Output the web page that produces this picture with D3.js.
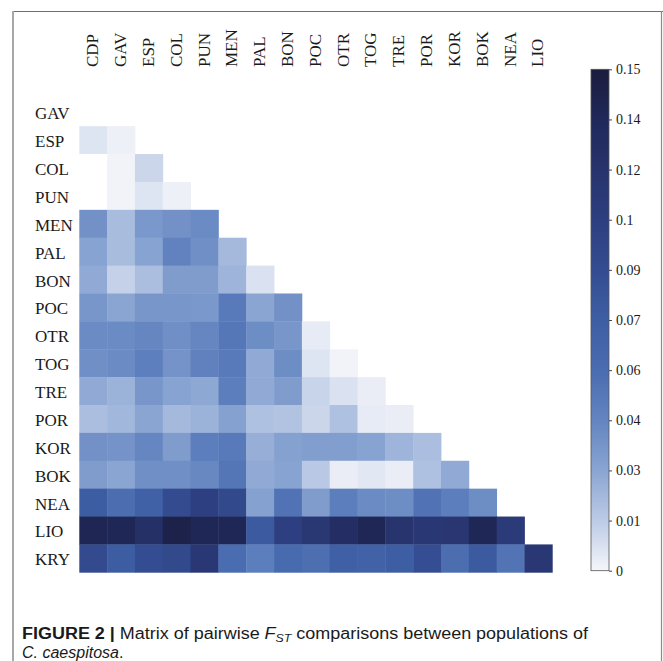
<!DOCTYPE html>
<html>
<head>
<meta charset="utf-8">
<script src="https://cdn.jsdelivr.net/npm/d3@7/dist/d3.min.js"></script>
<style>
  html, body { margin: 0; padding: 0; background: #fff; }
  svg { display: block; }
</style>
</head>
<body>
<svg id="chart" width="663" height="661"></svg>
<script>
// Populations (rows of the lower triangle, then columns)
const rowLabels = ["GAV","ESP","COL","PUN","MEN","PAL","BON","POC","OTR","TOG","TRE","POR","KOR","BOK","NEA","LIO","KRY"];
const colLabels = ["CDP","GAV","ESP","COL","PUN","MEN","PAL","BON","POC","OTR","TOG","TRE","POR","KOR","BOK","NEA","LIO"];

// Pairwise FST, one array per row (row i holds i+1 comparisons)
const fstGAV = [-0.002];
const fstESP = [0.006, 0.002];
const fstCOL = [-0.002, 0.001, 0.011];
const fstPUN = [-0.002, 0.001, 0.006, 0.002];
const fstMEN = [0.039, 0.021, 0.036, 0.039, 0.042];
const fstPAL = [0.031, 0.021, 0.031, 0.046, 0.040, 0.022];
const fstBON = [0.028, 0.013, 0.020, 0.034, 0.034, 0.024, 0.007];
const fstPOC = [0.037, 0.030, 0.037, 0.037, 0.036, 0.051, 0.030, 0.039];
const fstOTR = [0.042, 0.042, 0.044, 0.040, 0.044, 0.053, 0.041, 0.037, 0.004];
const fstTOG = [0.040, 0.042, 0.048, 0.038, 0.047, 0.051, 0.028, 0.041, 0.006, 0.001];
const fstTRE = [0.028, 0.025, 0.037, 0.031, 0.029, 0.049, 0.028, 0.034, 0.012, 0.007, 0.003];
const fstPOR = [0.020, 0.023, 0.030, 0.022, 0.025, 0.032, 0.019, 0.018, 0.011, 0.019, 0.004, 0.003];
const fstKOR = [0.039, 0.038, 0.044, 0.034, 0.049, 0.051, 0.026, 0.032, 0.033, 0.033, 0.031, 0.024, 0.020];
const fstBOK = [0.034, 0.030, 0.040, 0.040, 0.043, 0.054, 0.028, 0.031, 0.016, 0.003, 0.005, 0.003, 0.019, 0.028];
const fstNEA = [0.076, 0.059, 0.072, 0.091, 0.105, 0.094, 0.032, 0.056, 0.034, 0.049, 0.042, 0.041, 0.056, 0.049, 0.041];
const fstLIO = [0.138, 0.137, 0.124, 0.143, 0.137, 0.137, 0.078, 0.105, 0.115, 0.127, 0.137, 0.119, 0.114, 0.116, 0.137, 0.111];
const fstKRY = [0.092, 0.076, 0.090, 0.094, 0.114, 0.060, 0.049, 0.062, 0.058, 0.073, 0.071, 0.075, 0.089, 0.059, 0.078, 0.055, 0.114];

const fstRows = [fstGAV, fstESP, fstCOL, fstPUN, fstMEN, fstPAL, fstBON, fstPOC, fstOTR,
                 fstTOG, fstTRE, fstPOR, fstKOR, fstBOK, fstNEA, fstLIO, fstKRY];

// Colour bar ticks and their printed labels
const barTicks = [0, 0.015, 0.03, 0.045, 0.06, 0.075, 0.09, 0.105, 0.12, 0.135, 0.15];
const barTickLabels = ["0", "0.01", "0.03", "0.04", "0.06", "0.07", "0.09", "0.1", "0.12", "0.14", "0.15"];

// Colour ramp (white -> blue -> navy); negative FST shows as plain white
const rampValues = [-0.002, 0, 0.015, 0.03, 0.045, 0.06, 0.075, 0.09, 0.105, 0.12, 0.135, 0.15];
const rampColors = ["#ffffff", "#f5f6fa", "#bccbe6", "#8aa5d2", "#6384c0", "#4a6cb0", "#3e5ea4",
                    "#344c91", "#2d3f80", "#27336c", "#20285a", "#1b1d3c"];

const cells = [];
fstRows.forEach((vals, i) => {
  vals.forEach((v, j) => cells.push({ row: rowLabels[i], col: colLabels[j], value: v }));
});

const svg = d3.select("#chart");
const serif = "'Liberation Serif', 'Times New Roman', serif";

// Figure frame
svg.append("line").attr("x1", 13).attr("x2", 663).attr("y1", 11.5).attr("y2", 11.5)
  .attr("stroke", "#6f6f6f").attr("stroke-width", 1.2);
svg.append("line").attr("x1", 13).attr("x2", 13).attr("y1", 11).attr("y2", 661)
  .attr("stroke", "#a8a8a8").attr("stroke-width", 2);
svg.append("line").attr("x1", 661.5).attr("x2", 661.5).attr("y1", 11).attr("y2", 661)
  .attr("stroke", "#8a8a8a").attr("stroke-width", 1.2);

const x = d3.scaleBand().domain(colLabels).range([79.3, 552.3]).padding(0);
const y = d3.scaleBand().domain(rowLabels).range([98.3, 572.3]).padding(0);
const color = d3.scaleLinear().domain(rampValues).range(rampColors)
  .interpolate(d3.interpolateRgb).clamp(true);

// Heatmap cells
svg.append("g").selectAll("rect").data(cells).join("rect")
  .attr("x", d => x(d.col))
  .attr("y", d => y(d.row))
  .attr("width", x.bandwidth() + 0.4)
  .attr("height", y.bandwidth() + 0.4)
  .attr("fill", d => color(d.value));

// Row labels
svg.append("g").selectAll("text").data(rowLabels).join("text")
  .attr("x", 35)
  .attr("y", d => y(d) + y.bandwidth() / 2 + 1.5)
  .attr("dominant-baseline", "central")
  .attr("font-family", serif).attr("font-size", 17).attr("fill", "#1a1a1a")
  .text(d => d);

// Column labels (vertical)
svg.append("g").selectAll("text").data(colLabels).join("text")
  .attr("transform", d => `translate(${x(d) + x.bandwidth() / 2 - 0.5},67) rotate(-90)`)
  .attr("text-anchor", "start")
  .attr("dominant-baseline", "central")
  .attr("font-family", serif).attr("font-size", 17).attr("fill", "#1a1a1a")
  .text(d => d);

// Colour bar
const barX = 591, barW = 18;
const yc = d3.scaleLinear().domain([0, 0.15]).range([570.7, 69.3]);
const defs = svg.append("defs");
const grad = defs.append("linearGradient").attr("id", "fstGrad")
  .attr("x1", 0).attr("x2", 0).attr("y1", 1).attr("y2", 0);
grad.selectAll("stop").data(rampValues.filter(v => v >= 0)).join("stop")
  .attr("offset", d => d / 0.15)
  .attr("stop-color", d => color(d));

svg.append("rect")
  .attr("x", barX).attr("y", yc(0.15))
  .attr("width", barW).attr("height", yc(0) - yc(0.15))
  .attr("fill", "url(#fstGrad)")
  .attr("stroke", "#555").attr("stroke-width", 0.8);

const axis = d3.axisRight(yc)
  .tickValues(barTicks)
  .tickFormat((d, i) => barTickLabels[i])
  .tickSize(3).tickPadding(4);

const ax = svg.append("g").attr("transform", `translate(${barX + barW},0)`).call(axis);
ax.select(".domain").remove();
ax.selectAll(".tick line").attr("stroke", "#444");
ax.selectAll(".tick text").attr("font-family", serif).attr("font-size", 14).attr("fill", "#1a1a1a");

// Caption
const sans = "'Liberation Sans Narrow', 'Liberation Sans', Arial, sans-serif";
const cap = svg.append("text").attr("x", 22).attr("y", 639)
  .attr("font-family", sans).attr("font-size", 16).attr("fill", "#1a1a1a")
  .attr("textLength", 566).attr("lengthAdjust", "spacingAndGlyphs");
cap.append("tspan").attr("font-weight", "bold").text("FIGURE 2 | ");
cap.append("tspan").text("Matrix of pairwise ");
cap.append("tspan").attr("font-style", "italic").text("F");
cap.append("tspan").attr("font-style", "italic").attr("font-size", 11).attr("dy", 3).text("ST");
cap.append("tspan").attr("dy", -3).text(" comparisons between populations of");

const cap2 = svg.append("text").attr("x", 22).attr("y", 658)
  .attr("font-family", sans).attr("font-size", 16).attr("fill", "#1a1a1a");
cap2.append("tspan").attr("font-style", "italic").text("C. caespitosa");
cap2.append("tspan").text(".");
</script>
</body>
</html>
